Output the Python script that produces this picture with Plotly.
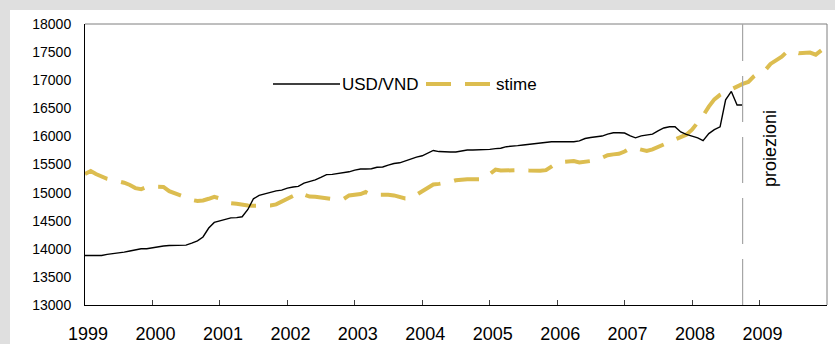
import pandas as pd
import plotly.graph_objects as go

# Monthly USD/VND exchange rate, Jan 1999 - Oct 2008
usd_vnd = [
    13880, 13880, 13880, 13880, 13900, 13910, 13920, 13940, 13960, 13975, 14000, 14000,  # 1999
    14020, 14030, 14050, 14060, 14060, 14060, 14065, 14100, 14140, 14210, 14370, 14470,  # 2000
    14500, 14520, 14550, 14555, 14570, 14700, 14890, 14950, 14980, 15010, 15030, 15045,  # 2001
    15080, 15100, 15110, 15170, 15200, 15225, 15270, 15320, 15325, 15340, 15360, 15370,  # 2002
    15400, 15420, 15420, 15425, 15450, 15455, 15490, 15518, 15530, 15565, 15595, 15630,  # 2003
    15655, 15700, 15750, 15730, 15722, 15722, 15722, 15745, 15757, 15757, 15757, 15757,  # 2004
    15770, 15782, 15790, 15817, 15822, 15835, 15848, 15862, 15872, 15890, 15905, 15905,  # 2005
    15905, 15905, 15905, 15905, 15920, 15962, 15980, 15995, 16006, 16040, 16065, 16065,  # 2006
    16060, 16010, 15975, 16010, 16030, 16040, 16100, 16150, 16172, 16172, 16080, 16035,  # 2007
    16005, 15975, 15925, 16050, 16120, 16170, 16650, 16800, 16560, 16560,                # 2008
]

# Monthly model estimates ("stime"), Jan 1999 - Dec 2009
stime = [
    15330, 15385, 15330, 15280, 15245, 15225, 15205, 15176, 15135, 15080, 15060, 15100,  # 1999
    15105, 15105, 15100, 15025, 14995, 14950, 14915, 14870, 14850, 14860, 14890, 14925,  # 2000
    14895, 14850, 14810, 14800, 14780, 14770, 14765, 14762, 14765, 14770, 14790, 14840,  # 2001
    14875, 14940, 15000, 14960, 14930, 14925, 14910, 14890, 14886, 14886, 14886, 14950,  # 2002
    14962, 14975, 15010, 14957, 14960, 14965, 14962, 14950, 14915, 14895, 14900, 14960,  # 2003
    15030, 15085, 15145, 15155, 15165, 15190, 15220, 15232, 15236, 15236, 15236, 15240,  # 2004
    15330, 15410, 15392, 15395, 15400, 15410, 15402, 15395, 15388, 15388, 15400, 15470,  # 2005
    15530, 15545, 15555, 15560, 15535, 15550, 15565, 15575, 15620, 15665, 15680, 15690,  # 2006
    15730, 15790, 15790, 15760, 15740, 15770, 15815, 15860, 15900, 15950, 15990, 16030,  # 2007
    16120, 16250, 16370, 16530, 16660, 16740, 16790, 16830, 16880, 16935, 16970, 17070,  # 2008
    17145, 17180, 17290, 17360, 17420, 17515, 17510, 17480, 17490, 17492, 17455, 17530,  # 2009
]

year_labels = ["1999", "2000", "2001", "2002", "2003", "2004",
               "2005", "2006", "2007", "2008", "2009"]
y_ticks = [13000, 13500, 14000, 14500, 15000, 15500, 16000, 16500, 17000, 17500, 18000]
projection_start = "2008-10-01"

months_usd = pd.date_range("1999-01-01", periods=len(usd_vnd), freq="MS")
months_stime = pd.date_range("1999-01-01", periods=len(stime), freq="MS")

FONT = "Liberation Sans, Arial, sans-serif"
GOLD = "#dcbd50"

W, H = 835, 344
L, R, T, B = 85, 827, 24, 305  # plot area in pixels


def px(xp, yp):
    """Pixel position -> paper coordinates."""
    return (xp - L) / (R - L), (B - yp) / (B - T)


fig = go.Figure()
fig.add_trace(go.Scatter(
    x=months_stime, y=stime, mode="lines", name="stime",
    line=dict(color=GOLD, width=4, dash="25px,14px"), showlegend=False,
))
fig.add_trace(go.Scatter(
    x=months_usd, y=usd_vnd, mode="lines", name="USD/VND",
    line=dict(color="#000000", width=1.4), showlegend=False,
))

shapes = []
# white card over the grey page
x0, y0 = px(10, 10)
x1, y1 = px(W, H)
shapes.append(dict(type="rect", xref="paper", yref="paper", x0=x0, y0=y1, x1=x1, y1=y0,
                   fillcolor="white", line=dict(width=0), layer="below"))
# top and right frame
shapes.append(dict(type="line", xref="paper", yref="paper", x0=0, y0=1, x1=1, y1=1,
                   line=dict(color="#7f7f7f", width=1)))
shapes.append(dict(type="line", xref="paper", yref="paper", x0=1, y0=0, x1=1, y1=1,
                   line=dict(color="#7f7f7f", width=1)))
# start of projections
shapes.append(dict(type="line", xref="x", yref="paper", x0=projection_start, x1=projection_start,
                   y0=0, y1=1, line=dict(color="#a6a6a6", width=1.2, dash="46px,15px")))

# legend samples
lx0, ly = px(273, 84)
lx1, _ = px(340, 84)
shapes.append(dict(type="line", xref="paper", yref="paper", x0=lx0, x1=lx1, y0=ly, y1=ly,
                   line=dict(color="#000000", width=1.4)))
gx0, _ = px(426, 84)
gx1, _ = px(490, 84)
shapes.append(dict(type="line", xref="paper", yref="paper", x0=gx0, x1=gx1, y0=ly, y1=ly,
                   line=dict(color=GOLD, width=4, dash="25px,14px")))

annotations = []
tx, _ = px(340, 84)
annotations.append(dict(xref="paper", yref="paper", x=tx, y=ly, text="USD/VND",
                        xanchor="left", yanchor="middle", showarrow=False,
                        font=dict(family=FONT, size=17, color="#000000")))
tx, _ = px(494, 84)
annotations.append(dict(xref="paper", yref="paper", x=tx, y=ly, text="stime",
                        xanchor="left", yanchor="middle", showarrow=False,
                        font=dict(family=FONT, size=17, color="#000000")))
ax, ay = px(770, 149)
annotations.append(dict(xref="paper", yref="paper", x=ax, y=ay, text="proiezioni",
                        textangle=-90, xanchor="center", yanchor="middle", showarrow=False,
                        font=dict(family=FONT, size=18, color="#000000")))

fig.update_layout(
    width=W, height=H,
    margin=dict(l=L, r=W - R, t=T, b=H - B, pad=0, autoexpand=False),
    paper_bgcolor="#dfdfdf",
    plot_bgcolor="white",
    showlegend=False,
    shapes=shapes,
    annotations=annotations,
    font=dict(family=FONT, color="#000000"),
)
fig.update_xaxes(
    type="date",
    range=["1999-01-01", "2010-01-01"],
    tickvals=[f"{y}-01-01" for y in year_labels],
    ticktext=year_labels,
    ticks="inside", ticklen=5, tickcolor="#404040", tickwidth=1,
    showgrid=False, zeroline=False,
    showline=True, linecolor="#000000", linewidth=1,
    tickfont=dict(family=FONT, size=18, color="#000000"),
    ticklabelstandoff=12, ticklabelshift=3,
    automargin=False,
)
fig.update_yaxes(
    range=[13000, 18000],
    tickvals=y_ticks,
    ticktext=[str(v) for v in y_ticks],
    ticks="",
    showgrid=False, zeroline=False,
    showline=True, linecolor="#000000", linewidth=1,
    tickfont=dict(family=FONT, size=14, color="#000000"),
    ticklabelstandoff=10,
    automargin=False,
)

fig.write_html("out.html")
